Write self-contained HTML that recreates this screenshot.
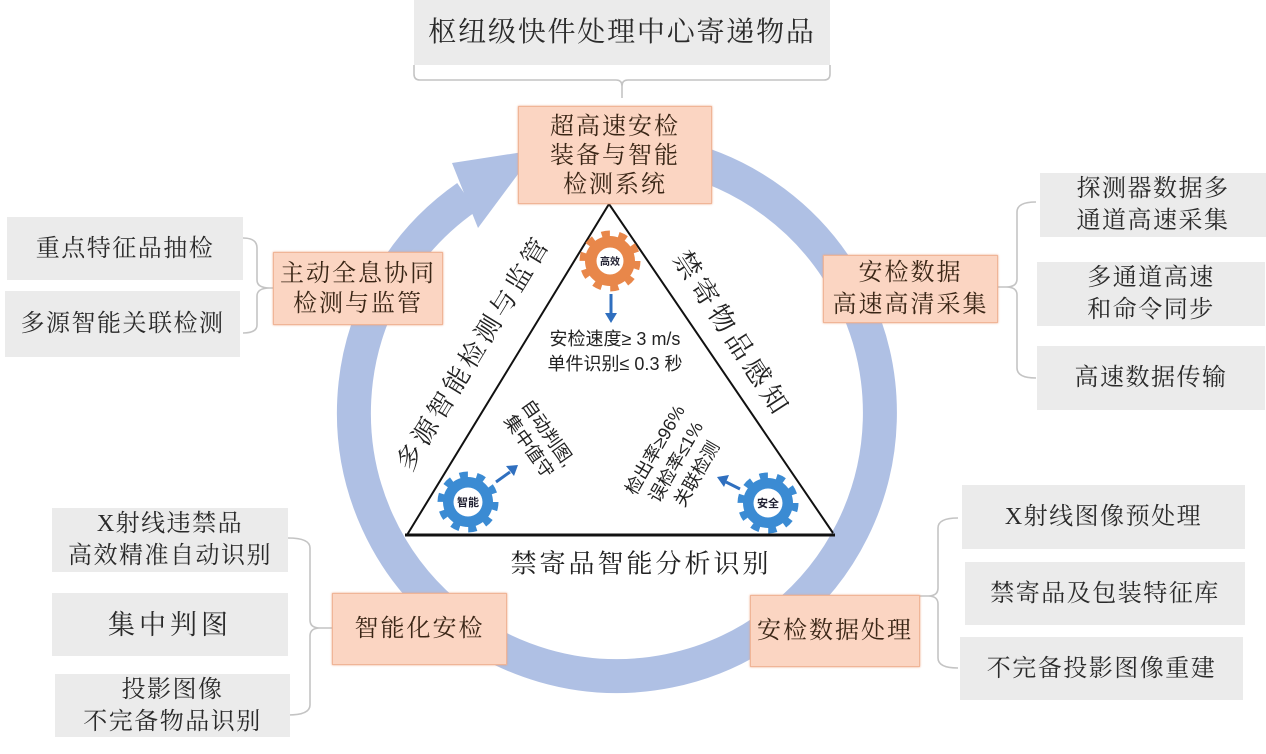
<!DOCTYPE html>
<html><head><meta charset="utf-8">
<style>
html,body{margin:0;padding:0;background:#fff;}
body{width:1266px;height:754px;position:relative;overflow:hidden;font-family:"Liberation Serif","Noto Serif CJK SC",serif;color:#222;}
.g{position:absolute;background:#ebebeb;display:flex;flex-direction:column;align-items:center;justify-content:center;text-align:center;font-size:24px;letter-spacing:1.5px;line-height:32px;color:#2a2a2a;}
.o{position:absolute;background:#fbd5c2;border:1px solid #f0b597;box-shadow:0 0 2px #e9a07c;display:flex;flex-direction:column;align-items:center;justify-content:center;text-align:center;font-size:24px;letter-spacing:2px;line-height:30px;color:#3a2616;box-sizing:border-box;}
.r{position:absolute;white-space:nowrap;transform-origin:center center;}
</style></head><body>
<svg width="1266" height="754" style="position:absolute;left:0;top:0" xmlns="http://www.w3.org/2000/svg">
 <!-- ring -->
 <path d="M671.7,155.8 A263,263 0 1 1 466.9,197.0" fill="none" stroke="#afc0e4" stroke-width="34"/>
 <polygon points="452,163 478,228 536,150" fill="#afc0e4"/>
 <!-- brackets -->
 <g fill="none" stroke="#c4c4c4" stroke-width="1.6">
  <path d="M414,65 L414,74 Q414,80 420,80 L616,80 Q622,80 622,86 L622,98 M622,86 Q622,80 628,80 L824,80 Q830,80 830,74 L830,65"/>
  <path d="M243,238 Q257,238 257,248 L257,280 Q257,288 270,288 L274,288 M270,288 Q257,288 257,296 L257,325 Q257,333 243,333"/>
  <path d="M288,538 Q310,538 310,548 L310,620 Q310,628 320,628 L332,628 M320,628 Q310,628 310,636 L310,705 Q310,715 288,715"/>
  <path d="M1036,202 Q1017,202 1017,212 L1017,279 Q1017,287 1006,287 L998,287 M1006,287 Q1017,287 1017,295 L1017,368 Q1017,378 1036,378"/>
  <path d="M958,518 Q938,518 938,528 L938,588 Q938,596 928,596 L920,596 M928,596 Q938,596 938,604 L938,658 Q938,668 958,668"/>
 </g>
 <!-- triangle -->
 <path d="M407,535 L609,204 L833,533" fill="none" stroke="#111" stroke-width="2"/>
 <line x1="405" y1="535" x2="835" y2="535" stroke="#111" stroke-width="3"/>
 <!-- gears -->
 <g transform="translate(610,261)">
  <circle r="25" fill="#e8874a"/>
  <circle r="27" fill="none" stroke="#e8874a" stroke-width="7" stroke-dasharray="8.2 8.76"/>
  <circle r="13.5" fill="#fff"/>
  <text x="0" y="4" font-size="10" font-weight="bold" text-anchor="middle" font-family="Noto Sans CJK SC, sans-serif" fill="#223">高效</text>
 </g>
 <g transform="translate(468,502)">
  <circle r="25" fill="#3b8bd3"/>
  <circle r="27" fill="none" stroke="#3b8bd3" stroke-width="7" stroke-dasharray="8.2 8.76"/>
  <circle r="14.5" fill="#fff"/>
  <text x="0" y="4" font-size="11" font-weight="bold" text-anchor="middle" font-family="Noto Sans CJK SC, sans-serif" fill="#223">智能</text>
 </g>
 <g transform="translate(768,503)">
  <circle r="25" fill="#3b8bd3"/>
  <circle r="27" fill="none" stroke="#3b8bd3" stroke-width="7" stroke-dasharray="8.2 8.76"/>
  <circle r="14.5" fill="#fff"/>
  <text x="0" y="4" font-size="11" font-weight="bold" text-anchor="middle" font-family="Noto Sans CJK SC, sans-serif" fill="#223">安全</text>
 </g>
 <!-- small arrows -->
 <g stroke="#2f6fbf" stroke-width="3" fill="#2f6fbf">
  <line x1="611" y1="294" x2="611" y2="314"/>
  <polygon points="605,313 617,313 611,323" stroke="none"/>
  <line x1="496" y1="482" x2="510" y2="472"/>
  <polygon points="506,466 514,476 518,465" stroke="none"/>
  <line x1="740" y1="489" x2="726" y2="482"/>
  <polygon points="729,475 724,487 717,477" stroke="none"/>
 </g>
</svg>

<!-- top -->
<div class="g" style="left:414px;top:0;width:416px;height:65px;font-size:28px;letter-spacing:1.8px;">枢纽级快件处理中心寄递物品</div>
<div class="o" style="left:518px;top:106px;width:194px;height:98px;line-height:29px;padding-top:2px;">超高速安检<br>装备与智能<br>检测系统</div>

<!-- left -->
<div class="g" style="left:7px;top:217px;width:236px;height:63px;">重点特征品抽检</div>
<div class="g" style="left:5px;top:291px;width:235px;height:66px;">多源智能关联检测</div>
<div class="o" style="left:273px;top:252px;width:170px;height:73px;">主动全息协同<br>检测与监管</div>

<!-- right -->
<div class="o" style="left:823px;top:255px;width:175px;height:68px;line-height:32px;">安检数据<br>高速高清采集</div>
<div class="g" style="left:1040px;top:173px;width:226px;height:64px;">探测器数据多<br>通道高速采集</div>
<div class="g" style="left:1037px;top:262px;width:228px;height:64px;">多通道高速<br>和命令同步</div>
<div class="g" style="left:1037px;top:346px;width:228px;height:64px;">高速数据传输</div>

<!-- bottom left -->
<div class="g" style="left:52px;top:508px;width:236px;height:64px;"><span><span style="font-family:'Liberation Serif',serif;">X</span>射线违禁品</span><span>高效精准自动识别</span></div>
<div class="g" style="left:52px;top:593px;width:236px;height:63px;font-size:27px;letter-spacing:4px;">集中判图</div>
<div class="g" style="left:55px;top:674px;width:235px;height:63px;">投影图像<br>不完备物品识别</div>
<div class="o" style="left:332px;top:593px;width:175px;height:72px;">智能化安检</div>

<!-- bottom right -->
<div class="o" style="left:750px;top:595px;width:170px;height:72px;">安检数据处理</div>
<div class="g" style="left:962px;top:485px;width:283px;height:64px;"><span><span style="font-family:'Liberation Serif',serif;">X</span>射线图像预处理</span></div>
<div class="g" style="left:965px;top:562px;width:280px;height:63px;">禁寄品及包装特征库</div>
<div class="g" style="left:960px;top:637px;width:283px;height:63px;">不完备投影图像重建</div>

<!-- triangle labels -->
<div class="r" style="left:472px;top:352px;font-size:26px;letter-spacing:4px;transform:translate(-50%,-50%) rotate(-58.6deg);">多源智能检测与监管</div>
<div class="r" style="left:734px;top:333px;font-size:27px;letter-spacing:5px;transform:translate(-50%,-50%) rotate(57deg);">禁寄物品感知</div>
<div class="r" style="left:641px;top:562px;font-size:26px;letter-spacing:3px;transform:translate(-50%,-50%);">禁寄品智能分析识别</div>
<div class="r" style="left:615px;top:352px;font-size:18px;line-height:25px;text-align:center;font-family:'Liberation Sans','Noto Sans CJK SC',sans-serif;transform:translate(-50%,-50%);">安检速度≥ 3 m/s<br>单件识别≤ 0.3 秒</div>
<div class="r" style="left:538px;top:440px;font-size:18px;line-height:23px;text-align:center;font-family:'Liberation Sans','Noto Sans CJK SC',sans-serif;transform:translate(-50%,-50%) rotate(55deg);">自动判图,<br>集中值守</div>
<div class="r" style="left:676px;top:462px;font-size:18px;line-height:24px;text-align:center;font-family:'Liberation Sans','Noto Sans CJK SC',sans-serif;transform:translate(-50%,-50%) rotate(-60deg);">检出率≥96%<br>误检率≤1%<br>关联检测</div>
</body></html>
